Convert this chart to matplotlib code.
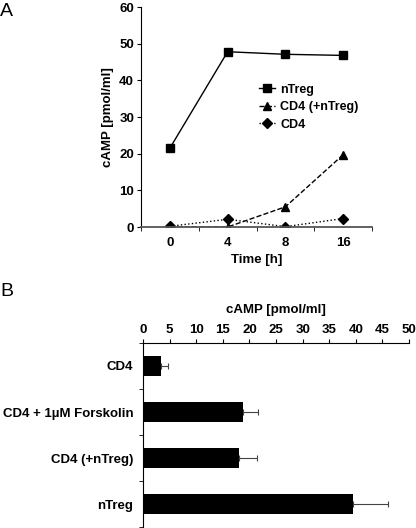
import matplotlib
matplotlib.use("Agg")
import matplotlib.pyplot as plt
import numpy as np

plt.rcParams['font.family'] = ['Liberation Sans', 'DejaVu Sans']
plt.rcParams['font.weight'] = 'bold'

# Panel A data
time_labels = ["0", "4", "8", "16"]
ntreg = [21.5, 47.8, 47.1, 46.8]
cd4_plus_ntreg = [0.0, 0.0, 5.5, 19.7]
cd4 = [0.2, 2.1, 0.1, 2.3]

# Panel B data
b_categories = ["CD4", "CD4 + 1µM Forskolin", "CD4 (+nTreg)", "nTreg"]
b_values = [3.4, 18.8, 18.0, 39.4]
b_errors = [1.3, 2.8, 3.4, 6.6]

fig = plt.figure(figsize=(4.16, 5.28), dpi=100)

fs = 9.5
# Panel A
axA = fig.add_axes([141/416, 1-227/528, (372-141)/416, (227-7)/528])
x = np.arange(len(time_labels))
axA.plot(x, ntreg, '-', color='black', lw=1, marker='s', ms=5.5, label='nTreg')
axA.plot(x, cd4_plus_ntreg, '--', color='black', lw=1, marker='^', ms=5.5, label='CD4 (+nTreg)')
axA.plot(x, cd4, ':', color='black', lw=1, marker='D', ms=5, label='CD4')
axA.set_xlim(-0.5, 3.5)
axA.set_ylim(0, 60)
axA.set_yticks(np.arange(0, 61, 10))
axA.set_xticks(x)
axA.set_xticklabels(time_labels)
axA.set_xticks(np.arange(-0.5, 3.6, 1), minor=True)
axA.tick_params(axis='x', which='major', length=0, pad=7, labelsize=fs)
axA.tick_params(axis='x', which='minor', length=3, direction='out')
axA.tick_params(axis='y', length=3, labelsize=fs, pad=2)
for lab in axA.get_xticklabels() + axA.get_yticklabels():
    lab.set_fontweight('bold')
for s in ['top', 'right']:
    axA.spines[s].set_visible(False)
axA.spines['bottom'].set_color('#555555')
axA.spines['bottom'].set_linewidth(1.3)
axA.set_ylabel('cAMP [pmol/ml]', fontsize=fs, fontweight='bold', labelpad=4)
axA.set_xlabel('Time [h]', fontsize=fs, fontweight='bold', labelpad=4)
leg = axA.legend(loc='upper left', bbox_to_anchor=(0.49, 0.675), frameon=False,
                 prop={'size': fs - 0.5, 'weight': 'bold'}, handlelength=1.3,
                 handletextpad=0.4, labelspacing=0.45, borderaxespad=0)
fig.text(0.0, 0.995, 'A', fontsize=14, fontweight='normal', va='top', ha='left')

# Panel B
axB = fig.add_axes([143/416, 1-527/528, (409-143)/416, (527-343)/528])
yb = np.arange(len(b_categories))
axB.barh(yb, b_values, height=0.42, color='black',
         xerr=[np.zeros(len(b_errors)), b_errors],
         error_kw=dict(ecolor='#444444', elinewidth=0.8, capsize=2.5, capthick=0.8))
axB.set_xlim(0, 50)
axB.set_ylim(3.5, -0.5)
axB.xaxis.tick_top()
axB.xaxis.set_label_position('top')
axB.set_xticks(np.arange(0, 51, 5))
axB.set_yticks(yb)
axB.set_yticklabels(b_categories)
axB.set_yticks(np.arange(-0.5, 3.6, 1), minor=True)
axB.tick_params(axis='y', which='major', length=0, pad=7, labelsize=fs)
axB.tick_params(axis='y', which='minor', length=3)
axB.tick_params(axis='x', length=3, labelsize=fs, pad=2)
for lab in axB.get_xticklabels() + axB.get_yticklabels():
    lab.set_fontweight('bold')
for s in ['bottom', 'right']:
    axB.spines[s].set_visible(False)
axB.set_xlabel('cAMP [pmol/ml]', fontsize=fs, fontweight='bold', labelpad=8)
fig.text(0.0, 1 - 283/528, 'B', fontsize=14, fontweight='normal', va='top', ha='left')

fig.savefig('out.png', dpi=100)
